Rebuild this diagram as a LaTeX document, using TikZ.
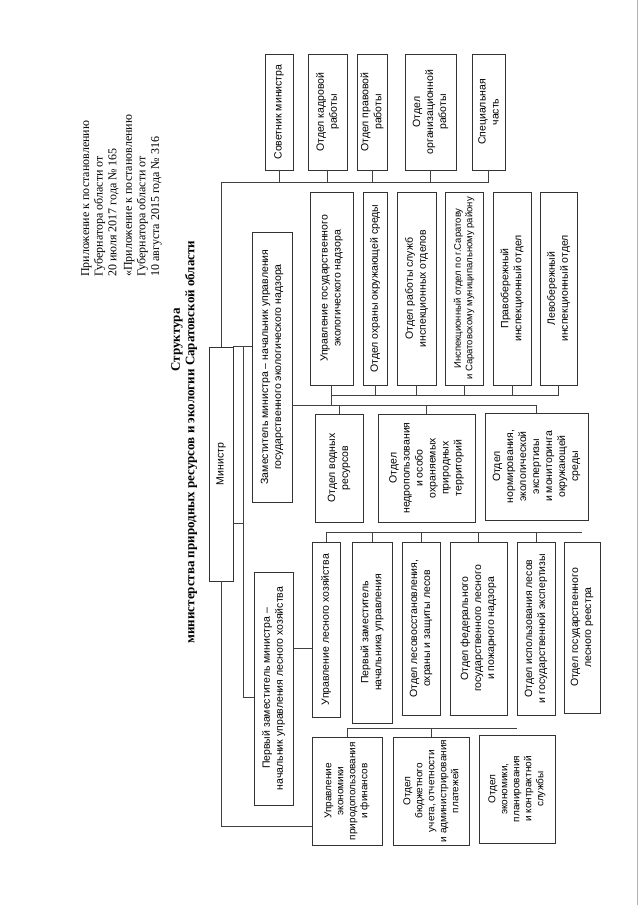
\documentclass[tikz,border=0pt]{standalone}
\usepackage{fontspec}
\setmainfont{Liberation Serif}
\setsansfont{Liberation Sans}

\begin{document}
\begin{tikzpicture}[
      x=1pt, y=-1pt,
      unit/.style={draw=black!80, line width=0.6pt, rotate=90, align=center,
        inner sep=1pt, font=\sffamily\fontsize{10.5}{13}\selectfont},
      dims/.style 2 args={minimum width=#1pt, minimum height=#2pt},
      small/.style={font=\sffamily\fontsize{10}{12}\selectfont},
      tight/.style={font=\sffamily\fontsize{9.5}{11.5}\selectfont},
      link/.style={draw=black!75, line width=0.6pt},
    ]
    \useasboundingbox (0,0) rectangle (640,905);
    \draw[gray!60, line width=1pt] (637,0) -- (637,905);

    \node[rotate=90, anchor=north west, align=left, inner sep=0pt,
      font=\fontsize{12}{13.6}\selectfont] (note) at (81,277)
      {Приложение к постановлению\\Губернатора области от\\20 июля 2017 года № 165\\[2pt]
       «Приложение к постановлению\\Губернатора области от\\10 августа 2015 года № 316};
    \node[rotate=90, font=\bfseries\fontsize{13}{15}\selectfont] (head) at (177,340) {Структура};
    \node[rotate=90, font=\bfseries\fontsize{13}{15}\selectfont] (subhead) at (191,442)
      {министерства природных ресурсов и экологии Саратовской области};

    \node[unit, dims={116}{28}] (sov) at (279,112) {Советник министра};
    \node[unit, dims={116}{39}] (kadr) at (327.5,112) {Отдел кадровой\\работы};
    \node[unit, dims={116}{30}] (prav) at (372,112) {Отдел правовой\\работы};
    \node[unit, dims={116}{51}] (org) at (430.5,112) {Отдел\\организационной\\работы};
    \node[unit, dims={116}{33}] (spec) at (488.5,112) {Специальная\\часть};

    \node[unit, dims={234}{24}] (min) at (221,464) {Министр};
    \node[unit, dims={270}{40}] (zam) at (272,367)
      {Заместитель министра – начальник управления\\государственного экологического надзора};
    \node[unit, dims={233}{39}] (perv) at (273.5,688.5)
      {Первый заместитель министра –\\начальник управления лесного хозяйства};

    \node[unit, dims={193}{43}] (upr) at (331.5,288.5) {Управление государственного\\экологического надзора};
    \node[unit, dims={193}{24}] (ohr) at (375,288.5) {Отдел охраны окружающей среды};
    \node[unit, dims={193}{39}] (rab) at (416.5,288.5) {Отдел работы служб\\инспекционных отделов};
    \node[unit, tight, dims={193}{38}] (insp) at (464,288.5)
      {Инспекционный отдел по г.Саратову\\и Саратовскому муниципальному району};
    \node[unit, dims={193}{38}] (pravo) at (512,288.5) {Правобережный\\инспекционный отдел};
    \node[unit, dims={193}{37}] (levo) at (558.5,288.5) {Левобережный\\инспекционный отдел};

    \node[unit, dims={108}{48}] (vod) at (339,468) {Отдел водных\\ресурсов};
    \node[unit, dims={108}{97}] (nedr) at (426.5,468)
      {Отдел\\недропользования\\и особо\\охраняемых\\природных\\территорий};
    \node[unit, dims={107}{103}] (norm) at (536.5,466.5)
      {Отдел\\нормирования,\\экологической\\экспертизы\\и мониторинга\\окружающей\\среды};

    \node[unit, dims={175}{28}] (ulh) at (326,629.5) {Управление лесного хозяйства};
    \node[unit, dims={181}{40}] (pzam) at (372,632.5) {Первый заместитель\\начальника управления};
    \node[unit, dims={173}{38}] (lesv) at (421,628.5) {Отдел лесовосстановления,\\охраны и защиты лесов};
    \node[unit, dims={173}{57}] (fed) at (478.5,628.5)
      {Отдел федерального\\государственного лесного\\и пожарного надзора};
    \node[unit, dims={173}{38}] (isp) at (536,628.5) {Отдел использования лесов\\и государственной экспертизы};
    \node[unit, dims={171}{36}] (reestr) at (582,627.5) {Отдел государственного\\лесного реестра};

    \node[unit, small, dims={108}{70}] (uek) at (347,791)
      {Управление\\экономики\\природопользования\\и финансов};
    \node[unit, small, dims={108}{76}] (bud) at (431,791)
      {Отдел\\бюджетного\\учета, отчетности\\и администрирования\\платежей};
    \node[unit, small, dims={108}{76}] (ekpl) at (517,789)
      {Отдел\\экономики,\\планирования\\и контрактной\\службы};

    \coordinate (tb) at (0,182);
    \coordinate (ja) at (243,347);
    \coordinate (jb) at (243,697);
    \coordinate (jc) at (243,523);
    \coordinate (zb) at (0,405);
    \coordinate (ub) at (0,395);
    \coordinate (lb) at (0,648);
    \coordinate (fb) at (0,532);
    \coordinate (eb) at (0,826);
    \coordinate (kb) at (0,728);

    \draw[link] (min.east) -- (min.east |- tb) -- (spec.west |- tb);
    \foreach \n in {sov,kadr,prav,org,spec}
      \draw[link] (\n.west) -- (\n.west |- tb);

    \draw[link] (min.south east) -- (zam.north |- min.south east);
    \draw[link] (ja) -- (jb) -- (perv.north |- jb);
    \draw[link] (min.south |- jc) -- (jc);

    \draw[link] (zam.south |- zb) -- (norm.east |- zb);
    \foreach \n in {vod,nedr,norm}
      \draw[link] (\n.east) -- (\n.east |- zb);
    \draw[link] (upr.west) -- (upr.west |- zb);
    \draw[link] (upr.west |- ub) -- (levo.west |- ub);
    \foreach \n in {ohr,rab,insp,pravo,levo}
      \draw[link] (\n.west) -- (\n.west |- ub);

    \draw[link] (perv.south |- lb) -- (ulh.north |- lb);
    \draw[link] (ulh.east) -- (ulh.east |- fb) -- (reestr.east |- fb);
    \foreach \n in {pzam,lesv,fed,isp}
      \draw[link] (\n.east) -- (\n.east |- fb);

    \draw[link] (min.west) -- (min.west |- eb) -- (uek.north |- eb);
    \draw[link] (uek.east) -- (uek.east |- kb) -- (ekpl.east |- kb);
    \draw[link] (bud.east) -- (bud.east |- kb);
  \end{tikzpicture}
\end{document}
